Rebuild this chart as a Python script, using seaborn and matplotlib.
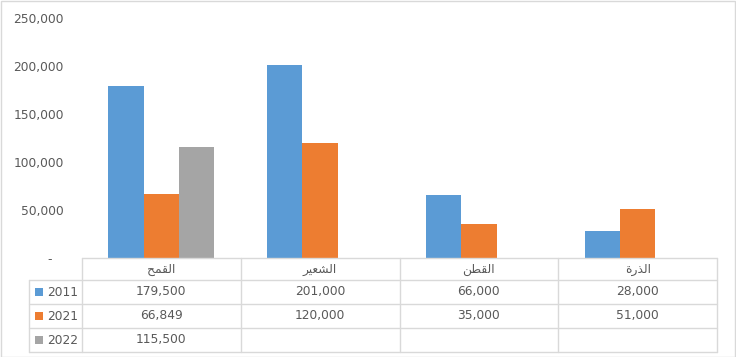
import pandas as pd
import numpy as np
import matplotlib.pyplot as plt
import seaborn as sns
from matplotlib.ticker import FuncFormatter

crops = ['القمح', 'الشعير', 'القطن', 'الذرة']
years = ['2011', '2021', '2022']
v2011 = [179500, 201000, 66000, 28000]
v2021 = [66849, 120000, 35000, 51000]
v2022 = [115500, None, None, None]
colors = ['#5B9BD5', '#ED7D31', '#A5A5A5']

# matplotlib has no arabic shaping, so build presentation forms by hand
FORMS = {
    'ا': ('\uFE8D', '\uFE8E', None, None),
    'ل': ('\uFEDD', '\uFEDE', '\uFEDF', '\uFEE0'),
    'ق': ('\uFED5', '\uFED6', '\uFED7', '\uFED8'),
    'م': ('\uFEE1', '\uFEE2', '\uFEE3', '\uFEE4'),
    'ح': ('\uFEA1', '\uFEA2', '\uFEA3', '\uFEA4'),
    'ش': ('\uFEB5', '\uFEB6', '\uFEB7', '\uFEB8'),
    'ع': ('\uFEC9', '\uFECA', '\uFECB', '\uFECC'),
    'ي': ('\uFEF1', '\uFEF2', '\uFEF3', '\uFEF4'),
    'ر': ('\uFEAD', '\uFEAE', None, None),
    'ط': ('\uFEC1', '\uFEC2', '\uFEC3', '\uFEC4'),
    'ن': ('\uFEE5', '\uFEE6', '\uFEE7', '\uFEE8'),
    'ذ': ('\uFEAB', '\uFEAC', None, None),
    'ة': ('\uFE93', '\uFE94', None, None),
}


def shape(word):
    out = []
    for i, ch in enumerate(word):
        iso, fin, ini, med = FORMS[ch]
        jp = i > 0 and FORMS[word[i - 1]][2] is not None
        jn = i < len(word) - 1 and ini is not None
        if jp and jn:
            out.append(med)
        elif jp:
            out.append(fin)
        elif jn:
            out.append(ini)
        else:
            out.append(iso)
    return ''.join(reversed(out))


rows = []
for y, vals in zip(years, [v2011, v2021, v2022]):
    for c, v in zip(crops, vals):
        rows.append({'crop': c, 'year': y, 'value': v})
df = pd.DataFrame(rows).dropna()

W, H = 736, 357
txt = '#595959'
grid = '#D9D9D9'
fs = 8.8

fig = plt.figure(figsize=(W / 100, H / 100), dpi=100)
sns.set_style("white")
plt.rcParams['font.family'] = ['DejaVu Sans']

ax = fig.add_axes([82 / W, (H - 258) / H, (717 - 82) / W, (258 - 18) / H])
sns.barplot(data=df, x='crop', y='value', hue='year', order=crops, hue_order=years,
            palette=colors, width=0.667, saturation=1, linewidth=0, legend=False, ax=ax)
ax.set_xlim(-0.5, 3.5)
ax.set_ylim(0, 250000)
ax.set_yticks(np.arange(0, 250001, 50000))
ax.yaxis.set_major_formatter(FuncFormatter(lambda v, p: '-   ' if v == 0 else f'{int(v):,}'))
ax.tick_params(axis='y', length=0, pad=13, labelsize=fs, labelcolor=txt)
ax.set_xticks([])
ax.set_xlabel('')
ax.set_ylabel('')
for s in ax.spines.values():
    s.set_visible(False)

# data table under the plot
col = (717 - 82) / 4
x0 = -0.5 - (82 - 29) / col
ax_t = fig.add_axes([29 / W, (H - 352) / H, (717 - 29) / W, (352 - 258) / H])
ax_t.set_xlim(x0, 3.5)
ax_t.set_ylim(94, 0)
ax_t.axis('off')


def px(p):
    return x0 + (p - 29) / col


bounds = [0, 22, 46, 70, 94]
ax_t.plot([-0.5, 3.5], [0, 0], color=grid, lw=1, clip_on=False)
for b in bounds[1:]:
    ax_t.plot([x0, 3.5], [b, b], color=grid, lw=1, clip_on=False)
for i in range(5):
    ax_t.plot([i - 0.5, i - 0.5], [0, 94], color=grid, lw=1, clip_on=False)
ax_t.plot([x0, x0], [22, 94], color=grid, lw=1, clip_on=False)

for i, c in enumerate(crops):
    ax_t.text(i, 11, shape(c), ha='center', va='center', fontsize=fs, color=txt)
for r, (y, vals, clr) in enumerate(zip(years, [v2011, v2021, v2022], colors)):
    cy = (bounds[r + 1] + bounds[r + 2]) / 2
    ax_t.scatter([px(39)], [cy], marker='s', s=34, color=clr, linewidths=0, clip_on=False)
    ax_t.text(px(47), cy, y, ha='left', va='center', fontsize=fs, color=txt)
    for i, v in enumerate(vals):
        if v is not None:
            ax_t.text(i, cy, f'{v:,}', ha='center', va='center', fontsize=fs, color=txt)

fig.patches.append(plt.Rectangle((0.5 / W, 0.5 / H), (W - 1.5) / W, (H - 1.5) / H,
                                 transform=fig.transFigure, fill=False, edgecolor=grid, lw=1))
plt.savefig('out.png', dpi=100)
